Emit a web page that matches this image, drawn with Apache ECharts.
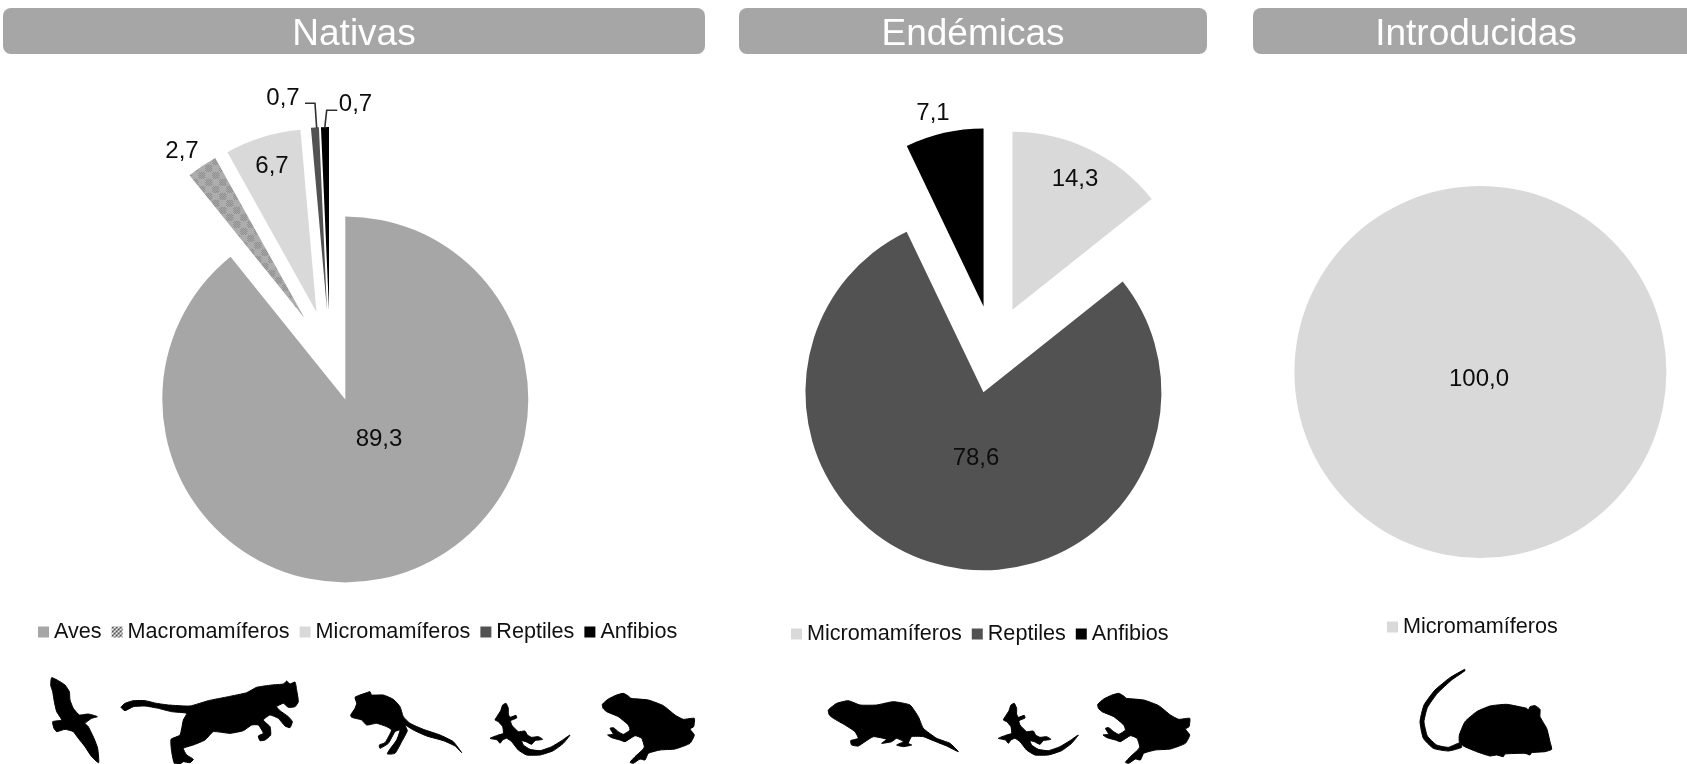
<!DOCTYPE html>
<html lang="es">
<head>
<meta charset="utf-8">
<title>Especies nativas, endémicas e introducidas</title>
<script src="https://cdn.jsdelivr.net/npm/echarts@6/dist/echarts.min.js"></script>
<style>
html,body{margin:0;padding:0;background:#fff;}
#chart{width:1687px;height:764px;}
</style>
</head>
<body>
<div id="chart"></div>
<script>
// Percentage of species per group
const nativasNames = ['Aves', 'Macromamíferos', 'Micromamíferos', 'Reptiles', 'Anfibios'];
const nativasValues = [89.3, 2.7, 6.7, 0.7, 0.7];
const endemicasNames = ['Micromamíferos', 'Reptiles', 'Anfibios'];
const endemicasValues = [14.3, 78.6, 7.1];
const introducidasNames = ['Micromamíferos'];
const introducidasValues = [100.0];
const panelTitles = ['Nativas', 'Endémicas', 'Introducidas'];

const FONT = '"Liberation Sans", Arial, sans-serif';

// Plaid fill for Macromamíferos: fine checker blocks over a flat grey
function plaid(cell, dark, light, flat) {
  const c = document.createElement('canvas');
  c.width = c.height = cell * 2;
  const g = c.getContext('2d');
  g.fillStyle = flat;
  g.fillRect(0, 0, c.width, c.height);
  for (let y = 0; y < c.height; y++) {
    for (let x = 0; x < c.width; x++) {
      const inA = x < cell && y < cell;
      const inB = x >= cell && y >= cell;
      if (inA || inB) {
        g.fillStyle = (x + y) % 2 ? dark : light;
        g.fillRect(x, y, 1, 1);
      }
    }
  }
  return c;
}
const macroFill = { image: plaid(7, '#7a7a7a', '#bdbdbd', '#adadad'), repeat: 'repeat' };
const macroIcon = { image: plaid(2, '#222222', '#888888', '#f0f0f0'), repeat: 'repeat' };

const colors = {
  'Aves': '#a6a6a6',
  'Macromamíferos': macroFill,
  'Micromamíferos': '#d9d9d9',
  'Reptiles': '#525252',
  'Anfibios': '#000000'
};

function pieSeries(names, values, exploded, center, radius, offset) {
  return {
    type: 'pie',
    silent: true,
    animation: false,
    selectedMode: exploded ? 'multiple' : false,
    selectedOffset: offset,
    center, radius,
    startAngle: 90,
    clockwise: true,
    label: { show: false },
    labelLine: { show: false },
    data: names.map((name, i) => ({
      name, value: values[i], selected: exploded,
      itemStyle: { color: colors[name] },
      select: { itemStyle: { color: colors[name], borderWidth: 0 } }
    }))
  };
}

function legend(names, left, top) {
  return {
    left, top,
    orient: 'horizontal',
    icon: 'rect',
    itemWidth: 11,
    itemHeight: 11,
    itemGap: 10,
    selectedMode: false,
    padding: 0,
    textStyle: { fontFamily: FONT, fontSize: 21.6, color: '#111111' },
    data: names.map(name => name === 'Macromamíferos'
      ? { name, itemStyle: { color: macroIcon } }
      : { name })
  };
}

function header(x, width, text) {
  return [
    { type: 'rect', silent: true, shape: { x, y: 8, width, height: 46, r: 8 },
      style: { fill: '#a6a6a6' } },
    { type: 'text', silent: true, x: x + width / 2, y: 35,
      style: { text, fill: '#ffffff', font: '37px ' + FONT, textAlign: 'center', textVerticalAlign: 'middle' } }
  ];
}

// Value labels read their text from the series arrays
function valueLabels(values, anchors) {
  return values.map((v, i) => ({
    type: 'text', silent: true, z: 20, x: anchors[i][0], y: anchors[i][1],
    style: {
      text: v.toFixed(1).replace('.', ','),
      fill: '#0d0d0d', font: '24px ' + FONT,
      textAlign: 'center', textVerticalAlign: 'middle'
    }
  }));
}

function leader(points) {
  return {
    type: 'polyline', silent: true, z: 20,
    shape: { points },
    style: { stroke: '#303030', lineWidth: 1.6, fill: 'none' }
  };
}

// Animal silhouettes, traced at 3x and scaled down
const birdOutline = [[95,203],[115,212],[135,225],[148,245],[150,270],[160,295],[178,315],[205,312],[232,320],[215,325],[195,340],[205,350],[222,385],[233,415],[236,458],[215,440],[195,410],[175,385],[160,365],[135,358],[110,365],[102,355],[98,335],[125,330],[110,305],[103,275],[98,245],[92,225]];
const cougarOutline = [[18,112],[30,100],[55,92],[90,92],[125,100],[160,105],[225,108],[280,92],[340,80],[395,68],[425,52],[470,45],[505,42],[515,33],[525,42],[540,36],[545,60],[550,95],[540,110],[520,112],[505,100],[485,110],[495,122],[520,140],[532,155],[525,173],[510,168],[490,145],[465,135],[445,150],[465,170],[467,195],[450,210],[435,212],[430,198],[445,190],[430,165],[410,165],[385,182],[345,190],[295,185],[270,210],[235,225],[205,235],[215,255],[235,268],[225,278],[205,275],[195,282],[178,280],[170,245],[168,208],[195,195],[205,150],[215,130],[170,125],[130,115],[90,108],[55,110],[30,122]];
const jerboaOutline = [[15,262],[30,255],[45,250],[60,245],[65,255],[100,255],[130,268],[150,290],[160,320],[180,340],[220,358],[270,375],[310,395],[335,428],[315,408],[280,392],[230,378],[190,360],[165,345],[172,362],[155,395],[135,430],[112,432],[118,420],[140,390],[150,360],[135,365],[115,400],[90,415],[88,405],[105,398],[125,360],[110,350],[80,340],[50,345],[35,330],[5,322],[2,315],[15,295],[20,280]];
const lizardOutline = [[48,40],[55,55],[55,72],[60,82],[78,76],[80,84],[62,92],[65,105],[85,125],[105,123],[112,135],[125,142],[145,140],[158,148],[135,152],[125,163],[108,155],[95,152],[100,165],[120,178],[150,182],[185,170],[215,152],[240,135],[220,160],[190,182],[150,195],[110,195],[85,180],[65,155],[50,145],[38,150],[30,160],[22,150],[0,145],[25,135],[40,130],[38,110],[25,95],[15,90],[22,78],[32,62],[38,45]];
const frogOutline = [[22,58],[40,42],[65,30],[85,25],[100,33],[108,40],[160,45],[205,62],[240,90],[265,103],[298,100],[296,125],[285,132],[298,150],[285,175],[240,192],[195,195],[160,205],[150,225],[135,222],[115,235],[105,232],[120,215],[142,195],[148,185],[140,160],[120,152],[90,170],[75,165],[50,158],[38,150],[55,148],[45,130],[55,128],[70,140],[85,148],[105,135],[100,120],[70,95],[35,80],[24,70]];
const ratOutline = [[145,300],[170,280],[205,272],[240,285],[290,285],[340,275],[390,285],[415,320],[430,355],[470,385],[510,400],[535,425],[500,408],[460,392],[430,380],[395,380],[385,400],[395,405],[370,410],[350,405],[370,395],[350,385],[335,395],[305,400],[320,388],[280,380],[255,395],[235,408],[215,405],[212,392],[235,385],[225,365],[195,345],[160,325],[148,315]];
const mouseTail = [[374,178],[330,203],[285,240],[252,285],[240,335],[250,385],[280,415],[325,423],[365,412],[360,398],[325,412],[290,405],[262,378],[252,335],[262,293],[292,250],[335,210],[375,182]];
const mouseBody = [[358,375],[375,335],[410,305],[450,288],[500,283],[560,295],[565,300],[570,290],[585,287],[600,298],[600,320],[620,355],[630,395],[635,418],[615,425],[575,428],[570,435],[555,430],[495,432],[490,440],[470,435],[450,438],[410,425],[370,408],[358,395]];

function silhouette(x, y, outlines) {
  return {
    type: 'group', silent: true, x, y, scaleX: 1 / 3, scaleY: 1 / 3,
    children: outlines.map(points => ({
      type: 'polygon',
      shape: { points, smooth: 0.15 },
      style: { fill: '#000000', stroke: '#000000', lineWidth: 3, lineJoin: 'round' }
    }))
  };
}

const nativasLabels = [[379, 439], [182, 151], [272, 166], [283, 98], [355.5, 104]];
const endemicasLabels = [[1075, 179], [976, 458], [933, 113]];
const introducidasLabels = [[1479, 379]];
const leaderLeft = [[305, 103.3], [315, 103.3], [316.7, 128.3]];
const leaderRight = [[337.3, 110.3], [326.7, 110.3], [324.7, 128.3]];

const chart = echarts.init(document.getElementById('chart'), null, { renderer: 'canvas' });
chart.setOption({
  backgroundColor: '#ffffff',
  animation: false,
  legend: [
    legend(nativasNames, 38, 621),
    legend(endemicasNames, 791, 623),
    legend(introducidasNames, 1387, 616)
  ],
  series: [
    pieSeries(nativasNames, nativasValues, true, [330, 356], 183, 46),
    pieSeries(endemicasNames, endemicasValues, true, [993.3, 349.4], 178, 44),
    pieSeries(introducidasNames, introducidasValues, false, [1480.4, 372], 186, 0)
  ],
  graphic: [
    ...header(3, 702, panelTitles[0]),
    ...header(739, 468, panelTitles[1]),
    ...header(1253, 446, panelTitles[2]),
    ...valueLabels(nativasValues, nativasLabels),
    ...valueLabels(endemicasValues, endemicasLabels),
    ...valueLabels(introducidasValues, introducidasLabels),
    leader(leaderLeft),
    leader(leaderRight),
    silhouette(20, 610, [birdOutline]),
    silhouette(115, 670, [cougarOutline]),
    silhouette(350, 610, [jerboaOutline]),
    silhouette(490, 690, [lizardOutline]),
    silhouette(595, 685, [frogOutline]),
    silhouette(780, 610, [ratOutline]),
    silhouette(998.3, 690, [lizardOutline]),
    silhouette(1090.4, 685, [frogOutline]),
    silhouette(1340, 610, [mouseTail, mouseBody])
  ]
});
</script>
</body>
</html>
